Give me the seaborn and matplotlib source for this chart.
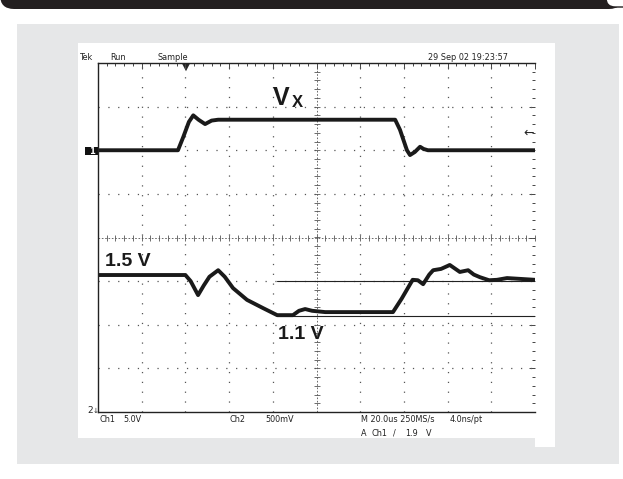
"""
Oscilloscope capture: Vx step on Ch1 and the 1.5 V -> 1.1 V droop on Ch2
"""
import numpy as np
import pandas as pd
import matplotlib
matplotlib.use("Agg")
import matplotlib.pyplot as plt
from matplotlib.patches import Rectangle, FancyBboxPatch
from matplotlib.ticker import MultipleLocator
from matplotlib import font_manager
import seaborn as sns

# time in divisions (0..10), level in divisions (-4..4)
ch1_t = [0.0, 1.83, 1.95, 2.08, 2.18, 2.3, 2.45, 2.6, 2.75, 6.8, 6.91, 7.07, 7.14,
         7.25, 7.37, 7.45, 7.55, 10.0]
ch1_v = [2.0, 2.0, 2.3, 2.65, 2.8, 2.7, 2.6, 2.68, 2.7, 2.7, 2.47, 2.0, 1.89,
         1.96, 2.08, 2.03, 2.0, 2.0]

ch2_t = [0.0, 2.0, 2.12, 2.29, 2.42, 2.55, 2.75, 2.9, 3.09, 3.41, 3.78, 4.1, 4.46,
         4.6, 4.74, 4.9, 5.2, 6.75, 6.95, 7.2, 7.32, 7.44, 7.58, 7.67, 7.85, 8.05,
         8.28, 8.47, 8.6, 8.74, 8.95, 9.13, 9.36, 10.0]
ch2_v = [-0.86, -0.86, -1.0, -1.32, -1.1, -0.9, -0.75, -0.9, -1.16, -1.43, -1.62,
         -1.78, -1.78, -1.68, -1.64, -1.68, -1.71, -1.71, -1.4, -0.97, -0.98, -1.07,
         -0.85, -0.75, -0.72, -0.63, -0.79, -0.75, -0.85, -0.91, -0.98, -0.97,
         -0.93, -0.97]

cursor_levels = [-1.0, -1.8]
cursor_start = 4.1

header_left = ["Tek", "Run", "Sample"]
date_text = "29 Sep 02 19:23:57"

sns.set_style("white")
label_font = ["Liberation Sans", "DejaVu Sans"]

# narrow face for the scope readouts, if one is installed
names = {f.name for f in font_manager.fontManager.ttflist}
small_font = "Liberation Sans Narrow" if "Liberation Sans Narrow" in names else "DejaVu Sans"
small_stretch = "normal" if small_font == "Liberation Sans Narrow" else "condensed"

fig = plt.figure(figsize=(6.23, 4.79), dpi=100)

# background in pixel coordinates
bg = fig.add_axes([0, 0, 1, 1])
bg.set_xlim(0, 623)
bg.set_ylim(479, 0)
bg.axis("off")
bg.add_patch(FancyBboxPatch((0, -30), 623, 39, boxstyle="round,pad=0,rounding_size=14",
                            fc="#231f20", ec="none"))
bg.add_patch(FancyBboxPatch((606, -20), 40, 27, boxstyle="round,pad=0,rounding_size=9",
                            fc="white", ec="#231f20", lw=1))
bg.add_patch(Rectangle((17, 24), 602, 440, fc="#e6e7e8", ec="none"))
bg.add_patch(Rectangle((78, 43), 457, 395, fc="white", ec="none"))
bg.add_patch(Rectangle((535, 43), 20, 404, fc="white", ec="none"))

txt = dict(family=small_font, stretch=small_stretch, fontsize=6.5, color="#222222",
           va="baseline")
for label, x in zip(header_left, [80, 110, 157]):
    bg.text(x, 60, label, **txt)
bg.text(428, 60, date_text, **txt)
bg.text(99, 422, "Ch1", **txt)
bg.text(123, 422, "5.0V", **txt)
bg.text(230, 422, "Ch2", **txt)
bg.text(265, 422, "500mV", **txt)
bg.text(361, 422, "M 20.0us 250MS/s", **txt)
bg.text(450, 422, "4.0ns/pt", **txt)
bg.text(361, 436, "A", **txt)
bg.text(372, 436, "Ch1", **txt)
bg.text(393, 436, "/", **txt)
bg.text(405, 436, "1.9", **txt)
bg.text(426, 436, "V", **txt)

# channel markers and trigger indicators
bg.add_patch(Rectangle((85, 147), 14, 8, fc="#111111", ec="none"))
bg.text(92, 151.5, "1", color="white", fontsize=6, ha="center", va="center",
        fontweight="bold")
bg.text(90, 413, "2", fontsize=6.5, ha="center", va="baseline", family=small_font)
bg.text(96, 411, "\u2193", fontsize=5, ha="center", va="center")
bg.text(186, 66.5, "\u25bc", fontsize=7.5, ha="center", va="center")
bg.text(529, 133, "\u2190", fontsize=9, ha="center", va="center")

# scope graticule
ax = fig.add_axes([98 / 623, 67 / 479, 437 / 623, 349 / 479])
ax.set_facecolor("none")
ax.set_xlim(0, 10)
ax.set_ylim(-4, 4)
dots = (0, (1, 6.86))
for x in range(1, 10):
    if x != 5:
        ax.plot([x, x], [-4, 4], ls=dots, lw=0.9, color="#555555")
for y in range(-3, 4):
    if y != 0:
        ax.plot([0, 10], [y, y], ls=dots, lw=0.9, color="#555555")
ax.plot([5, 5], [-4, 4], ls=(0, (2, 2)), lw=0.6, color="#555555")
ax.plot([0, 10], [0, 0], ls=(0, (2, 2)), lw=0.6, color="#555555")
ax.plot(np.arange(0, 10.01, 0.2), np.zeros(51), ls="none", marker="|", ms=4,
        mew=0.6, color="#555555")
ax.plot(np.full(41, 5.0), np.arange(-4, 4.01, 0.2), ls="none", marker="_", ms=4,
        mew=0.6, color="#555555")

ax.xaxis.set_major_locator(MultipleLocator(1))
ax.yaxis.set_major_locator(MultipleLocator(1))
ax.xaxis.set_minor_locator(MultipleLocator(0.2))
ax.yaxis.set_minor_locator(MultipleLocator(0.2))
ax.tick_params(which="both", direction="in", top=True, right=True,
               labelbottom=False, labelleft=False, color="#444444", width=0.7)
ax.tick_params(which="major", length=4)
ax.tick_params(which="minor", length=2.5)
for side in ["left", "top", "bottom"]:
    ax.spines[side].set_color("#222222")
    ax.spines[side].set_linewidth(1.0)
ax.spines["right"].set_visible(False)

# cursors
for lvl in cursor_levels:
    ax.plot([cursor_start, 10], [lvl, lvl], color="#222222", lw=0.8)

# traces
df1 = pd.DataFrame({"t": ch1_t, "v": ch1_v})
df2 = pd.DataFrame({"t": ch2_t, "v": ch2_v})
sns.lineplot(data=df1, x="t", y="v", sort=False, estimator=None, color="#1a1a1a",
             lw=2.8, ax=ax)
sns.lineplot(data=df2, x="t", y="v", sort=False, estimator=None, color="#1a1a1a",
             lw=2.8, ax=ax)
ax.set_xlabel("")
ax.set_ylabel("")

# annotations
ax.text(4.0, 3.04, "V", family=label_font, fontweight="bold", fontsize=18,
        va="baseline", color="#1a1a1a")
ax.text(4.44, 2.98, "X", family=label_font, fontweight="bold", fontsize=12,
        va="baseline", color="#1a1a1a")
ax.text(0.16, -0.65, "1.5 V", family=label_font, fontweight="bold", fontsize=14,
        va="baseline", color="#1a1a1a")
ax.text(4.12, -2.33, "1.1 V", family=label_font, fontweight="bold", fontsize=14,
        va="baseline", color="#1a1a1a")

fig.savefig("out.png", dpi=100)
